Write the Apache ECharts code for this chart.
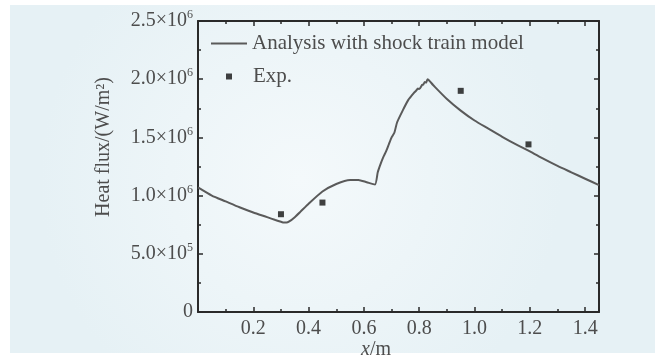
<!DOCTYPE html>
<html>
<head>
<meta charset="utf-8">
<title>Heat flux</title>
<script src="https://cdn.jsdelivr.net/npm/echarts@6.0.0/dist/echarts.min.js"></script>
<style>
  html, body { margin: 0; padding: 0; background: #fff; }
  #main { width: 668px; height: 360px; }
</style>
</head>
<body>
<div id="main"></div>
<script>
// 模型计算曲线 (x/m, W/m2)
const modelX = [0, 0.05, 0.10, 0.15, 0.20, 0.25, 0.28, 0.30, 0.31, 0.32, 0.33, 0.35, 0.37, 0.40, 0.45, 0.50, 0.55, 0.58, 0.61, 0.64,
  0.65, 0.66, 0.67, 0.68, 0.69, 0.70, 0.71, 0.72, 0.74, 0.76, 0.78, 0.79, 0.795, 0.80, 0.81, 0.815, 0.82, 0.825, 0.83,
  0.85, 0.90, 0.95, 1.00, 1.05, 1.10, 1.15, 1.20, 1.25, 1.30, 1.35, 1.40, 1.45];
const modelFlux = [1.07e6, 1.00e6, 0.95e6, 0.90e6, 0.855e6, 0.815e6, 0.79e6, 0.775e6, 0.768e6, 0.768e6, 0.778e6, 0.815e6, 0.86e6, 0.93e6, 1.035e6, 1.10e6, 1.135e6, 1.135e6, 1.115e6, 1.095e6,
  1.20e6, 1.27e6, 1.33e6, 1.38e6, 1.44e6, 1.50e6, 1.54e6, 1.63e6, 1.73e6, 1.82e6, 1.88e6, 1.905e6, 1.92e6, 1.915e6, 1.95e6, 1.955e6, 1.975e6, 1.97e6, 2.00e6,
  1.95e6, 1.83e6, 1.73e6, 1.645e6, 1.575e6, 1.505e6, 1.44e6, 1.38e6, 1.315e6, 1.255e6, 1.20e6, 1.145e6, 1.09e6];
// 实验点
const expX = [0.30, 0.45, 0.95, 1.195];
const expFlux = [0.84e6, 0.94e6, 1.90e6, 1.44e6];

const seriesNames = ['Analysis with shock train model', 'Exp.'];
const FONT = '"Liberation Serif", "Times New Roman", serif';
const TXT = '#4d4d4d';

let myChart = echarts.init(document.getElementById('main'));

function yLabel(v) {
  if (v === 0) return '0';
  let e = Math.floor(Math.log10(v) + 1e-9);
  let m = v / Math.pow(10, e);
  return m.toFixed(1) + '×10{s|' + e + '}';
}
function xLabel(v) {
  let k = v / 0.2;
  if (v === 0 || Math.abs(k - Math.round(k)) > 1e-6) return '';
  return v.toFixed(1);
}

const axisLine = { show: true, onZero: false, lineStyle: { color: '#2a2a2a', width: 2 } };
const tick = { show: true, inside: true, length: 5, lineStyle: { color: '#2a2a2a', width: 1.5 } };
const minor = { show: true, splitNumber: 2, length: 3, lineStyle: { color: '#2a2a2a', width: 1.5 } };
const legendText = { fontSize: 21, fontFamily: FONT, color: TXT };

myChart.setOption({
  backgroundColor: '#ffffff',
  animation: false,
  textStyle: { fontFamily: FONT },
  grid: { left: 198, right: 69, top: 21, bottom: 48, containLabel: false },
  graphic: [
    {
      type: 'rect', z: -10, silent: true,
      shape: { x: 10, y: 5, width: 645, height: 348 },
      style: {
        fill: new echarts.graphic.RadialGradient(0.45, 0.5, 0.75, [
          { offset: 0, color: '#f4f9fb' },
          { offset: 1, color: '#e6f1f5' }
        ])
      }
    },
    {
      type: 'text', x: 104, y: 147, rotation: Math.PI / 2,
      style: { text: 'Heat flux/(W/m²)', font: '20px ' + FONT, fill: TXT, align: 'center', verticalAlign: 'middle' }
    },
    {
      type: 'text', x: 376, y: 350,
      style: {
        text: '{i|x}/m', font: '20px ' + FONT, fill: TXT, align: 'center', verticalAlign: 'middle',
        rich: { i: { fontStyle: 'italic', fontSize: 20, fontFamily: FONT, fill: TXT } }
      }
    }
  ],
  legend: [
    {
      data: [{ name: seriesNames[0], icon: 'rect' }],
      left: 211, top: 33, padding: 0,
      itemWidth: 36, itemHeight: 2,
      itemStyle: { color: '#5a5a5a' },
      textStyle: legendText
    },
    {
      data: [{ name: seriesNames[1], icon: 'rect' }],
      left: 226, top: 66, padding: 0,
      itemWidth: 6, itemHeight: 6,
      textStyle: Object.assign({ padding: [0, 0, 0, 16] }, legendText)
    }
  ],
  xAxis: [
    {
      type: 'value', position: 'bottom', min: 0, max: 1.45, interval: 0.2,
      axisLine: axisLine, axisTick: tick, minorTick: minor,
      splitLine: { show: false },
      axisLabel: { fontSize: 20, color: TXT, margin: 7, formatter: xLabel, showMaxLabel: false }
    },
    {
      type: 'value', position: 'top', min: 0, max: 1.45, interval: 0.2,
      axisLine: axisLine, axisTick: tick, minorTick: minor,
      splitLine: { show: false }, axisLabel: { show: false }
    }
  ],
  yAxis: [
    {
      type: 'value', position: 'left', min: 0, max: 2.5e6, interval: 5e5,
      axisLine: axisLine, axisTick: tick, minorTick: minor,
      splitLine: { show: false },
      axisLabel: {
        fontSize: 20, color: TXT, margin: 5, formatter: yLabel,
        rich: { s: { fontSize: 12, color: TXT, fontFamily: FONT, padding: [0, 0, 12, 0] } }
      }
    },
    {
      type: 'value', position: 'right', min: 0, max: 2.5e6, interval: 5e5,
      axisLine: axisLine, axisTick: tick, minorTick: minor,
      splitLine: { show: false }, axisLabel: { show: false }
    }
  ],
  series: [
    {
      name: seriesNames[0],
      type: 'line',
      symbol: 'none',
      smooth: 0.2,
      lineStyle: { color: '#5a5a5a', width: 2 },
      itemStyle: { color: '#5a5a5a' },
      data: modelX.map((x, i) => [x, modelFlux[i]])
    },
    {
      name: seriesNames[1],
      type: 'scatter',
      symbol: 'rect',
      symbolSize: 6,
      itemStyle: { color: '#111111' },
      data: expX.map((x, i) => [x, expFlux[i]])
    }
  ]
});
</script>
</body>
</html>
